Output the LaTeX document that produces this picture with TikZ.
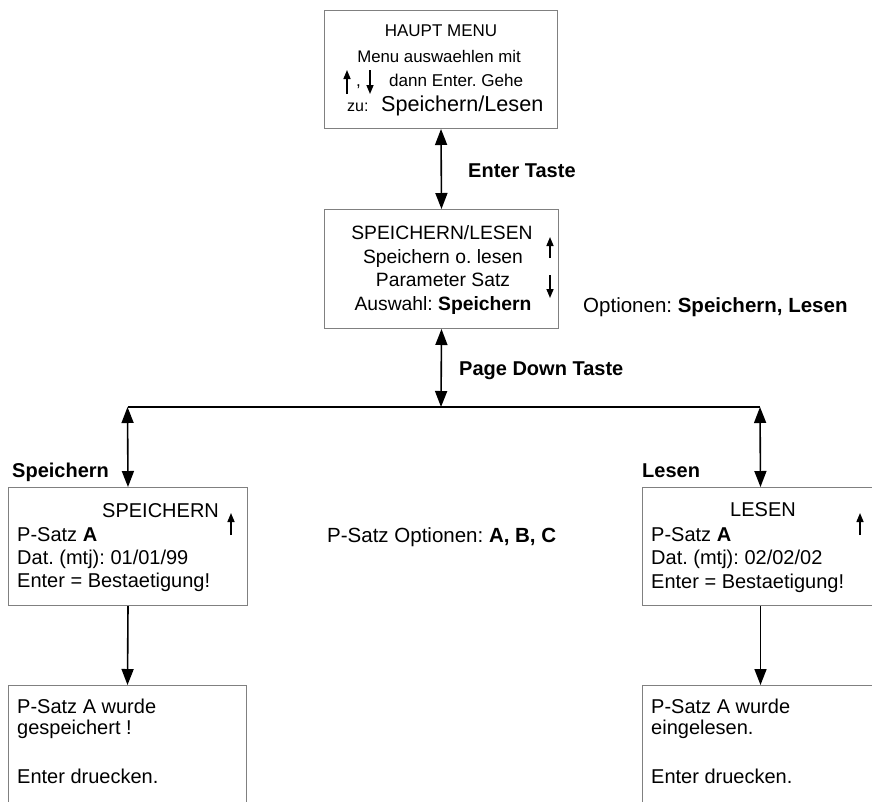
\documentclass[tikz,border=0pt]{standalone}
\usepackage{fontspec}
\setmainfont{Liberation Sans}
\frenchspacing
\usetikzlibrary{arrows.meta}
\begin{document}
\begin{tikzpicture}[x=1pt,y=-1pt,
    box/.style={draw=gray,line width=1pt,inner sep=0pt,anchor=north west},
    txt/.style={inner sep=0pt,anchor=base west,font=\fontsize{20}{22}\selectfont},
    ctxt/.style={txt,anchor=base,font=\fontsize{19.3}{22}\selectfont},
    lbl/.style={txt,font=\fontsize{20}{22}\selectfont\bfseries},
    link/.style={line width=1.6pt,{Triangle[length=16pt,width=12pt]}-{Triangle[length=16pt,width=12pt]}},
    flow/.style={line width=1.6pt,-{Triangle[length=16pt,width=12pt]}},
    tick/.style={line width=1.5pt,-{Triangle[length=9pt,width=7pt]}}]
      \useasboundingbox (0,0) rectangle (872,801);
      \clip (0,0) rectangle (872,801);
      \node[box,minimum width=233pt,minimum height=118pt] (haupt) at (324,10) {};
      \node[box,minimum width=234pt,minimum height=119pt] (menu) at (324,209) {};
      \node[box,minimum width=239pt,minimum height=118pt] (speichern) at (8,487) {};
      \node[box,minimum width=236pt,minimum height=118pt] (lesen) at (642,487) {};
      \node[box,minimum width=238pt,minimum height=130pt] (gespeichert) at (8,685) {};
      \node[box,minimum width=236pt,minimum height=130pt] (eingelesen) at (642,685) {};
      \coordinate (split) at (441,407);
      \coordinate (lsplit) at (127.5,407);
      \coordinate (rsplit) at (760,407);

      \node[ctxt,font=\fontsize{17}{20}\selectfont] (hm1) at (441,36) {HAUPT MENU};
      \node[ctxt,font=\fontsize{16.8}{20}\selectfont] (hm2) at (439,62) {Menu auswaehlen mit};
      \node[txt,font=\fontsize{17}{18}\selectfont] (komma) at (356,86) {,};
      \node[txt,font=\fontsize{17.1}{18}\selectfont] (hm3) at (389,86) {dann Enter. Gehe};
      \node[txt,font=\fontsize{16}{18}\selectfont] (hm4) at (347,111) {zu:};
      \node[txt,font=\fontsize{21.6}{24}\selectfont] (hm5) at (381,111) {Speichern/Lesen};
      \draw[tick] (347,94) -- (347,70);
      \draw[tick] (370,70) -- (370,94);

      \node[ctxt] (sl1) at (442,239) {SPEICHERN/LESEN};
      \node[ctxt] (sl2) at (443,263) {Speichern o. lesen};
      \node[ctxt] (sl3) at (443,286) {Parameter Satz};
      \node[ctxt] (sl4) at (443,310) {Auswahl: \textbf{Speichern}};
      \draw[tick] (550,258) -- (550,237);
      \draw[tick] (550,275) -- (550,298);

      \node[txt] (sp0) at (102,517) {SPEICHERN};
      \node[txt] (sp1) at (17,541) {P-Satz \textbf{A}};
      \node[txt] (sp2) at (17,564) {Dat. (mtj): 01/01/99};
      \node[txt] (sp3) at (17,587) {Enter = Bestaetigung!};
      \draw[tick] (231,535) -- (231,513);

      \node[ctxt,font=\fontsize{20}{22}\selectfont] (le0) at (763,516) {LESEN};
      \node[txt] (le1) at (651,541) {P-Satz \textbf{A}};
      \node[txt] (le2) at (651,564) {Dat. (mtj): 02/02/02};
      \node[txt] (le3) at (651,588) {Enter = Bestaetigung!};
      \draw[tick] (860,535) -- (860,513);

      \node[txt] (gs1) at (17,713) {P-Satz A wurde};
      \node[txt] (gs2) at (17,734) {gespeichert !};
      \node[txt] (gs3) at (17,783) {Enter druecken.};
      \node[txt] (ei1) at (651,713) {P-Satz A wurde};
      \node[txt] (ei2) at (651,734) {eingelesen.};
      \node[txt] (ei3) at (651,783) {Enter druecken.};

      \node[lbl] (enter) at (468,177) {Enter Taste};
      \node[lbl] (pagedown) at (459,375) {Page Down Taste};
      \node[txt,font=\fontsize{20.5}{22}\selectfont] (optionen) at (583,312) {Optionen: \textbf{Speichern, Lesen}};
      \node[txt,font=\fontsize{20.5}{22}\selectfont] (psatz) at (327,542) {P-Satz Optionen: \textbf{A, B, C}};
      \node[lbl] (lspeichern) at (12,477) {Speichern};
      \node[lbl] (llesen) at (642,477) {Lesen};

      \draw[link] (haupt.south) -- (menu.north);
      \draw[link] (menu.south) -- (split);
      \draw[line width=1.6pt] (lsplit) -- (rsplit);
      \draw[link] (lsplit) -- (speichern.north);
      \draw[link] (rsplit) -- (lesen.north);
      \draw[flow] (speichern.south) -- (gespeichert.north);
      \draw[flow] (lesen.south) -- (eingelesen.north);
    \end{tikzpicture}
\end{document}
